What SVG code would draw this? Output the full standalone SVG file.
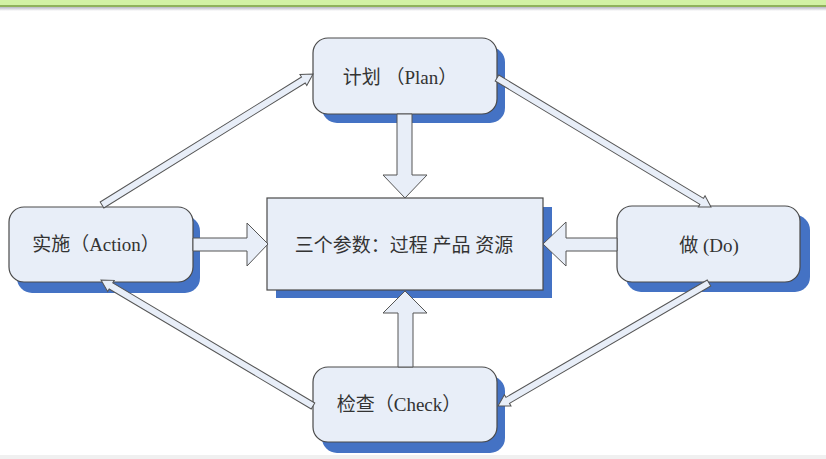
<svg xmlns="http://www.w3.org/2000/svg" width="826" height="459" viewBox="0 0 826 459">
<defs>
<style>
.shadow{fill:#4472c4;}
.box{fill:#e8eef8;stroke:#4a4a4a;stroke-width:1.2;}
.arrow{fill:#e8eef8;stroke:#555;stroke-width:1;stroke-linejoin:miter;}
.lbl{font-family:"Liberation Serif","Noto Sans CJK SC",serif;font-size:19px;fill:#333;text-anchor:middle;}
</style>
<linearGradient id="topfade" x1="0" y1="0" x2="0" y2="1">
<stop offset="0" stop-color="#b8b8c4"/>
<stop offset="1" stop-color="#ffffff"/>
</linearGradient>
</defs>
<rect x="0" y="0" width="826" height="459" fill="#ffffff"/>
<rect x="0" y="0" width="826" height="5" fill="#d2f1a5"/>
<rect x="0" y="5" width="826" height="2" fill="#8fb25c"/>
<rect x="0" y="7" width="826" height="4" fill="url(#topfade)"/>
<rect x="0" y="455" width="826" height="4" fill="#f0f0f0"/>

<g id="center">
<rect class="shadow" x="276" y="207" width="276" height="91"/>
<rect class="box" x="267" y="198" width="276" height="92"/>
<text class="lbl" x="404" y="252">三个参数：过程 产品 资源</text>
</g>

<g id="plan">
<rect class="shadow" x="322" y="47" width="183" height="76" rx="15"/>
<rect class="box" x="313" y="38" width="184" height="76" rx="15"/>
<text class="lbl" x="400" y="84">计划 （Plan）</text>
</g>

<g id="action">
<rect class="shadow" x="17" y="216" width="183" height="77" rx="15"/>
<rect class="box" x="9" y="207" width="184" height="75" rx="15"/>
<text class="lbl" x="96" y="251">实施（Action）</text>
</g>

<g id="do">
<rect class="shadow" x="626" y="215" width="184" height="77" rx="15"/>
<rect class="box" x="617" y="206" width="183" height="76" rx="15"/>
<text class="lbl" x="709" y="252">做 (Do)</text>
</g>

<g id="check">
<rect class="shadow" x="322" y="376" width="183" height="77" rx="15"/>
<rect class="box" x="313" y="367" width="184" height="75" rx="15"/>
<text class="lbl" x="399" y="411">检查（Check）</text>
</g>

<g id="connectors">
<polygon class="arrow" points="397,114 412,114 412,175 427,175 405,198 383,175 397,175"/>
<polygon class="arrow" points="398,367 413,367 413,313 427,313 405,291 383,313 398,313"/>
<polygon class="arrow" points="193,238 247,238 247,223 268,244 247,266 247,251 193,251"/>
<polygon class="arrow" points="617,238 566,238 566,222 543,244 566,266 566,251 617,251"/>
<polygon class="arrow" transform="translate(102,205) rotate(-31.83)" points="0,-3.5 237,-3.5 237,-6.5 248.4,0 237,6.5 237,3.5 0,3.5"/>
<polygon class="arrow" transform="translate(497,78) rotate(31.08)" points="0,-3.5 239,-3.5 239,-6.5 249.9,0 239,6.5 239,3.5 0,3.5"/>
<polygon class="arrow" transform="translate(709,283) rotate(149.76)" points="0,-3.5 233,-3.5 233,-6.5 244.2,0 233,6.5 233,3.5 0,3.5"/>
<polygon class="arrow" transform="translate(313,406) rotate(-149.28)" points="0,-3.5 235,-3.5 235,-6.5 246.6,0 235,6.5 235,3.5 0,3.5"/>
</g>
</svg>
